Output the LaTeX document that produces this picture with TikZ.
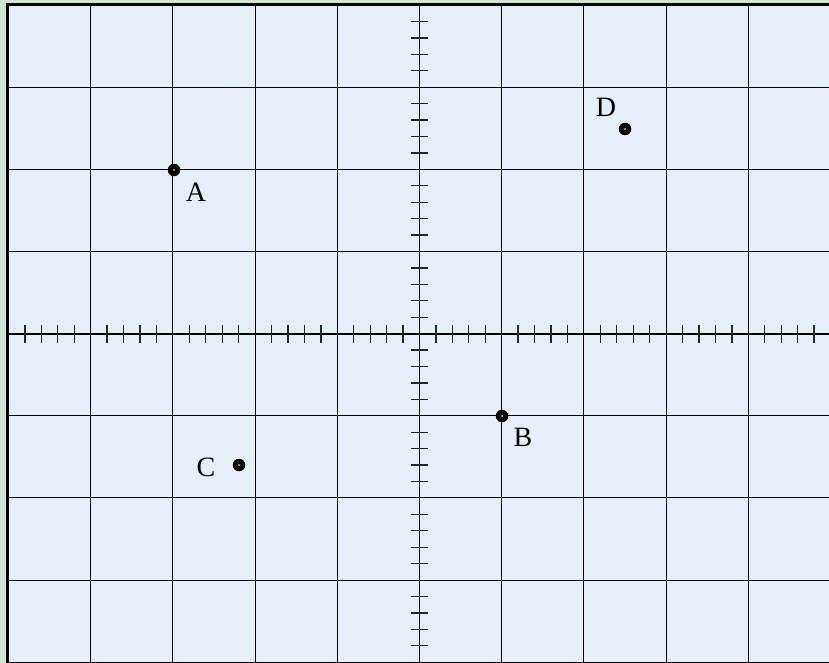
\documentclass[tikz,border=0pt]{standalone}
\usepackage{fontspec}
\setmainfont{Liberation Serif}
\definecolor{outerbg}{HTML}{D4E4D4}
\definecolor{plotbg}{HTML}{E6EEF8}
\begin{document}
\begin{tikzpicture}[x=1pt,y=-1pt,
  gridline/.style={black, line width=1.1pt},
  axisline/.style={black, line width=1.5pt},
  tickmark/.style={black!85, line width=1.3pt},
  pt/.style={circle, fill=black, inner sep=0pt, minimum size=12.5pt},
  lbl/.style={font=\fontsize{28}{28}\selectfont, inner sep=0pt}]
\useasboundingbox (0,0) rectangle (829,663);
\fill[outerbg] (0,0) rectangle (829,663);
\fill[plotbg] (8.5,5) rectangle (831,663);
% grid
\foreach \i in {1,...,9} {
  \draw[gridline] ({8.5+82.2*\i},5) -- ({8.5+82.2*\i},663);
}
\foreach \j in {1,...,7} {
  \draw[gridline] (8.5,{5+82.15*\j}) -- (831,{5+82.15*\j});
}
\draw[gridline] (8.5,662.3) -- (831,662.3);
% axes
\draw[axisline] (8.5,333.75) -- (831,333.75);
\draw[axisline] (419.5,5) -- (419.5,663);
% ticks
\foreach \k in {1,...,50} {
  \pgfmathtruncatemacro{\r}{mod(\k,5)}
  \ifnum\r=0\else
    \draw[tickmark] ({8.5+16.44*\k},325) -- ({8.5+16.44*\k},342.5);
  \fi
}
\foreach \k in {1,...,39} {
  \pgfmathtruncatemacro{\r}{mod(\k,5)}
  \ifnum\r=0\else
    \draw[tickmark] (411,{5+16.43*\k}) -- (428,{5+16.43*\k});
  \fi
}
% frame
\draw[black, line width=3pt] (7.5,663) -- (7.5,4.5) -- (831,4.5);
% points
\node[pt] (A) at (174,170) {};
\node[pt] (B) at (502,416) {};
\node[pt] (C) at (239,465) {};
\node[pt] (D) at (625,129) {};
\foreach \p in {A,B,C,D} { \fill[white] (\p) circle (0.9pt); }
\node[lbl] (la) at (196,192) {A};
\node[lbl] (lb) at (523,437) {B};
\node[lbl] (lc) at (206,467) {C};
\node[lbl] (ld) at (606,107) {D};
\end{tikzpicture}
\end{document}
